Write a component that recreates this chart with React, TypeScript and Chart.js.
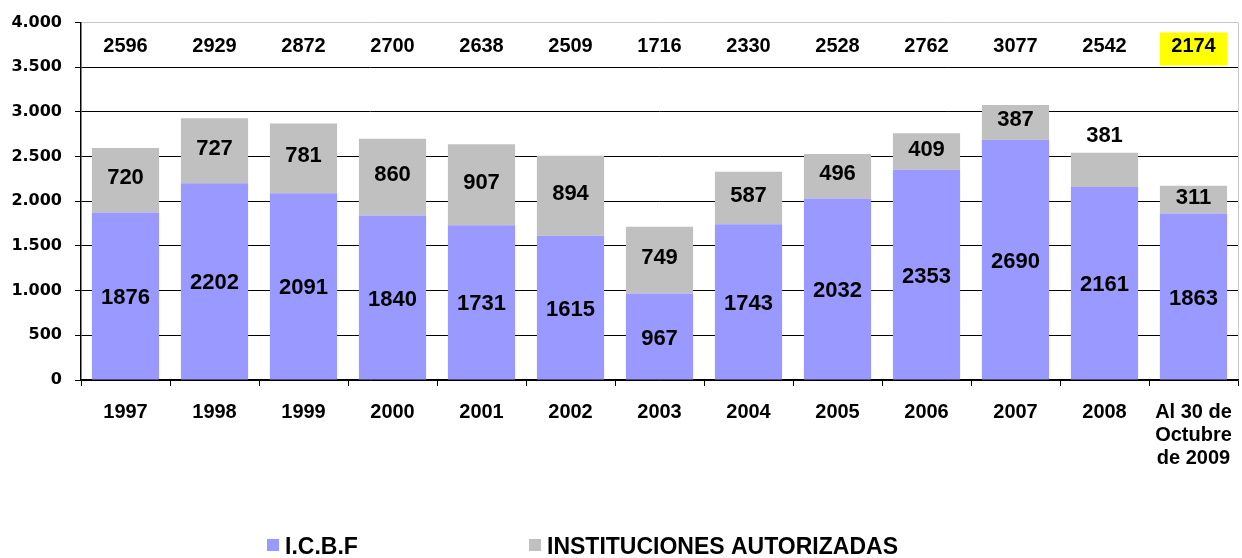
import React, { useEffect, useRef } from "react";
import { Chart, registerables } from "chart.js";

Chart.register(...registerables);

const categories: (string | string[])[] = [
  "1997", "1998", "1999", "2000", "2001", "2002", "2003",
  "2004", "2005", "2006", "2007", "2008", ["Al 30 de", "Octubre", "de 2009"],
];
const icbf = [1876, 2202, 2091, 1840, 1731, 1615, 967, 1743, 2032, 2353, 2690, 2161, 1863];
const instituciones = [720, 727, 781, 860, 907, 894, 749, 587, 496, 409, 387, 381, 311];
const totals = [2596, 2929, 2872, 2700, 2638, 2509, 1716, 2330, 2528, 2762, 3077, 2542, 2174];
const seriesNames = ["I.C.B.F", "INSTITUCIONES AUTORIZADAS"];
const yMin = 0;
const yMax = 4000;
const yStep = 500;
const highlightedTotal = 12;
const labelAboveBar = [false, false, false, false, false, false, false, false, false, false, false, true, false];

const BLUE = "#9999FF";
const GRAY = "#C0C0C0";
const ARIAL = "'Liberation Sans', Arial, sans-serif";

const fmt = (v: number) => String(v).replace(/\B(?=(\d{3})+(?!\d))/g, ".");

const labelsPlugin = {
  id: "customLabels",
  beforeDraw(chart: any) {
    const { ctx, chartArea } = chart;
    ctx.save();
    ctx.strokeStyle = "#C8C8C8";
    ctx.lineWidth = 1;
    ctx.beginPath();
    ctx.moveTo(Math.round(chartArea.right) + 0.5, chartArea.top);
    ctx.lineTo(Math.round(chartArea.right) + 0.5, chartArea.bottom);
    ctx.stroke();
    ctx.restore();
  },
  afterDatasetsDraw(chart: any) {
    const { ctx } = chart;
    const yScale = chart.scales.y;
    const m0 = chart.getDatasetMeta(0).data;
    const m1 = chart.getDatasetMeta(1).data;
    ctx.save();
    ctx.textAlign = "center";
    ctx.textBaseline = "middle";
    ctx.fillStyle = "#000";
    ctx.font = `bold 22px ${ARIAL}`;
    m0.forEach((el: any, i: number) => {
      ctx.fillText(String(icbf[i]), el.x, (el.y + el.base) / 2 + 2);
    });
    m1.forEach((el: any, i: number) => {
      const y = labelAboveBar[i] ? el.y - 17 : (el.y + el.base) / 2 - 2;
      ctx.fillText(String(instituciones[i]), el.x, y);
    });
    const ty = yScale.getPixelForValue(3730);
    ctx.font = `bold 20px ${ARIAL}`;
    m0.forEach((el: any, i: number) => {
      if (i === highlightedTotal) {
        const top = yScale.getPixelForValue(3890);
        const bot = yScale.getPixelForValue(3520);
        ctx.fillStyle = "#FFFF00";
        ctx.fillRect(el.x - el.width / 2, top, el.width, bot - top);
        ctx.fillStyle = "#000";
      }
      ctx.fillText(String(totals[i]), el.x, ty);
    });
    ctx.restore();
  },
  afterDraw(chart: any) {
    const { ctx } = chart;
    const colors = [BLUE, GRAY];
    const xs = [267, 529];
    ctx.save();
    ctx.font = `bold 23px ${ARIAL}`;
    ctx.textBaseline = "middle";
    ctx.textAlign = "left";
    seriesNames.forEach((name, i) => {
      ctx.fillStyle = colors[i];
      ctx.fillRect(xs[i], 539, 12, 12);
      ctx.fillStyle = "#000";
      ctx.fillText(name, xs[i] + 18, 548);
    });
    ctx.restore();
  },
};

export default function App() {
  const ref = useRef<HTMLCanvasElement>(null);
  useEffect(() => {
    if (!ref.current) return;
    const chart = new Chart(ref.current, {
      type: "bar",
      data: {
        labels: categories as any,
        datasets: [
          { label: seriesNames[0], data: icbf, backgroundColor: BLUE, barPercentage: 0.755, categoryPercentage: 1 },
          { label: seriesNames[1], data: instituciones, backgroundColor: GRAY, barPercentage: 0.755, categoryPercentage: 1 },
        ],
      },
      options: {
        animation: false,
        responsive: false,
        devicePixelRatio: 1,
        layout: { padding: { top: 20, right: 4, left: 0, bottom: 0 } },
        plugins: { legend: { display: false }, tooltip: { enabled: false } },
        scales: {
          x: {
            stacked: true,
            offset: true,
            grid: { offset: true, drawOnChartArea: false, drawTicks: true, tickLength: 6, color: "#000", tickColor: "#000" },
            border: { display: true, color: "#000", width: 1.5 },
            ticks: {
              color: "#000",
              padding: 15,
              maxRotation: 0,
              autoSkip: false,
              font: { family: ARIAL, size: 20, weight: "bold", lineHeight: 1.15 },
            },
            afterFit: (s: any) => {
              s.height = 178;
              s.paddingLeft = 0;
              s.paddingRight = 0;
            },
          },
          y: {
            stacked: true,
            min: yMin,
            max: yMax,
            ticks: {
              stepSize: yStep,
              color: "#000",
              padding: 13,
              callback: (v: any) => fmt(Number(v)),
              font: { family: "'DejaVu Sans', sans-serif", size: 16, weight: "bold" },
            },
            grid: {
              color: (c: any) => (c.tick && c.tick.value === yMax ? "#C8C8C8" : "#000"),
              tickColor: "#000",
              tickLength: 6,
              lineWidth: 1,
            },
            border: { display: true, color: "#000", width: 1.5 },
            afterFit: (s: any) => { s.width = 81; },
          },
        },
      },
      plugins: [labelsPlugin],
    } as any);
    return () => chart.destroy();
  }, []);
  return (
    <div style={{ position: "absolute", left: 0, top: 0, width: 1242, height: 558, background: "#fff" }}>
      <canvas ref={ref} width={1242} height={558} />
    </div>
  );
}
